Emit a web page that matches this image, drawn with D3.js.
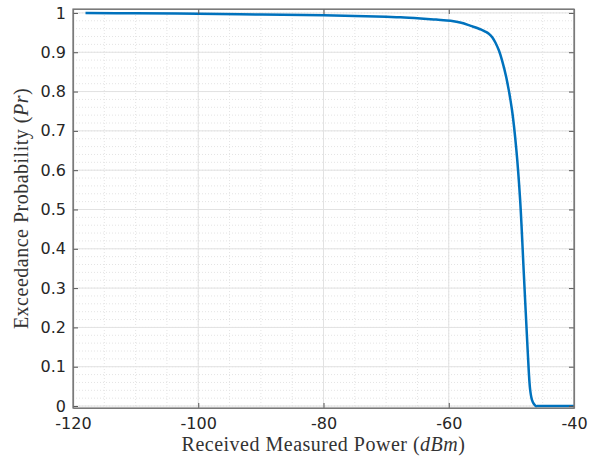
<!DOCTYPE html>
<html>
<head>
<meta charset="utf-8">
<script src="https://cdn.jsdelivr.net/npm/d3@7"></script>
<style>
	body { margin: 0; background: #fff; }
	svg { display: block; }
</style>
</head>
<body>
<script>
// values
const powerDbm = [-118, -110, -100, -90, -80, -75, -70, -67.7, -64.5, -62, -59.7, -58, -56.5,
	-54.9, -54.1, -53.6, -53.0, -52.5, -52.0, -51.5, -50.8, -49.9, -49.2, -48.6, -48.0, -47.4, -47.0, -46.7, -46.4, -46.1, -45.8, -45.5, -40];
const exceedProb = [1.0, 0.999, 0.998, 0.996, 0.994, 0.992, 0.990, 0.989, 0.986, 0.983, 0.980, 0.975, 0.967,
	0.958, 0.952, 0.947, 0.937, 0.923, 0.905, 0.880, 0.835, 0.753, 0.651, 0.524, 0.333, 0.142, 0.041, 0.015, 0.005, 0.0, 0.0, 0.0, 0.0];
const xTicks = [-120, -100, -80, -60, -40];
const yTicks = [0, 0.1, 0.2, 0.3, 0.4, 0.5, 0.6, 0.7, 0.8, 0.9, 1];
const xMinor = d3.range(-120, -39, 5);
const yMinor = d3.range(0, 1.001, 0.02);

const width = 589, height = 460;
const plotL = 73, plotR = 574, plotT = 9, plotB = 408;

let svg = d3.select('body').append('svg')
	.attr('width', width)
	.attr('height', height);

let x = d3.scaleLinear().domain([-120, -40]).range([plotL, plotR]);
let y = d3.scaleLinear().domain([-0.005, 1.01]).range([plotB, plotT]);

// minor grid (dotted)
svg.append('g').selectAll('line')
	.data(xMinor)
	.enter().append('line')
	.attr('x1', d => x(d)).attr('x2', d => x(d))
	.attr('y1', plotT).attr('y2', plotB)
	.style('stroke', '#e4e4e4')
	.style('stroke-dasharray', '1,2');
svg.append('g').selectAll('line')
	.data(yMinor)
	.enter().append('line')
	.attr('x1', plotL).attr('x2', plotR)
	.attr('y1', d => y(d)).attr('y2', d => y(d))
	.style('stroke', '#e4e4e4')
	.style('stroke-dasharray', '1,2');

// major grid
svg.append('g').selectAll('line')
	.data(xTicks)
	.enter().append('line')
	.attr('x1', d => x(d)).attr('x2', d => x(d))
	.attr('y1', plotT).attr('y2', plotB)
	.style('stroke', '#e2e2e2');
svg.append('g').selectAll('line')
	.data(yTicks)
	.enter().append('line')
	.attr('x1', plotL).attr('x2', plotR)
	.attr('y1', d => y(d)).attr('y2', d => y(d))
	.style('stroke', '#e2e2e2');

// curve
let line = d3.line()
	.x((d, i) => x(powerDbm[i]))
	.y(d => y(d))
	.curve(d3.curveCatmullRom.alpha(0.5));

svg.append('path')
	.datum(exceedProb)
	.attr('d', line)
	.style('fill', 'none')
	.style('stroke', '#0072BD')
	.style('stroke-width', 2.5)
	.style('stroke-linejoin', 'round');

// axes (inward ticks on all four sides)
const tickFont = '"DejaVu Sans", sans-serif';
let axB = svg.append('g').attr('transform', `translate(0,${plotB})`)
	.call(d3.axisBottom(x).tickValues(xTicks).tickSizeInner(-5).tickSizeOuter(0).tickPadding(10)
		.tickFormat(d => String(d)));
let axT = svg.append('g').attr('transform', `translate(0,${plotT})`)
	.call(d3.axisTop(x).tickValues(xTicks).tickSizeInner(-5).tickSizeOuter(0).tickFormat(''));
let axL = svg.append('g').attr('transform', `translate(${plotL},0)`)
	.call(d3.axisLeft(y).tickValues(yTicks).tickSizeInner(-5).tickSizeOuter(0).tickPadding(7)
		.tickFormat(d => d === 0 || d === 1 ? String(d) : d3.format('.1f')(d)));
let axR = svg.append('g').attr('transform', `translate(${plotR},0)`)
	.call(d3.axisRight(y).tickValues(yTicks).tickSizeInner(-5).tickSizeOuter(0).tickFormat(''));

[axB, axT, axL, axR].forEach(a => {
	a.select('.domain').style('stroke', '#7a7a7a').style('stroke-width', 1.2);
	a.selectAll('.tick line').style('stroke', '#555');
	a.selectAll('.tick text')
		.style('font-family', tickFont)
		.style('font-size', '16px')
		.style('fill', '#262626');
});
// domain path of d3 axis only spans the range; redraw box edges fully
svg.append('rect')
	.attr('x', plotL).attr('y', plotT)
	.attr('width', plotR - plotL).attr('height', plotB - plotT)
	.style('fill', 'none')
	.style('stroke', '#7a7a7a')
	.style('stroke-width', 1.2);

// axis labels
const labelFont = '"Liberation Serif", "DejaVu Serif", serif';
let xl = svg.append('text')
	.attr('x', (plotL + plotR) / 2)
	.attr('y', 451)
	.attr('text-anchor', 'middle')
	.style('font-family', labelFont)
	.style('font-size', '20px')
	.style('letter-spacing', '0.5px')
	.style('fill', '#333');
xl.append('tspan').text('Received Measured Power (');
xl.append('tspan').style('font-style', 'italic').text('dBm');
xl.append('tspan').text(')');

let yl = svg.append('text')
	.attr('transform', `translate(28,${(plotT + plotB) / 2}) rotate(-90)`)
	.attr('text-anchor', 'middle')
	.style('font-family', labelFont)
	.style('font-size', '20px')
	.style('letter-spacing', '0.5px')
	.style('fill', '#333');
yl.append('tspan').text('Exceedance Probability (');
yl.append('tspan').style('font-style', 'italic').text('Pr');
yl.append('tspan').text(')');
</script>
</body>
</html>
